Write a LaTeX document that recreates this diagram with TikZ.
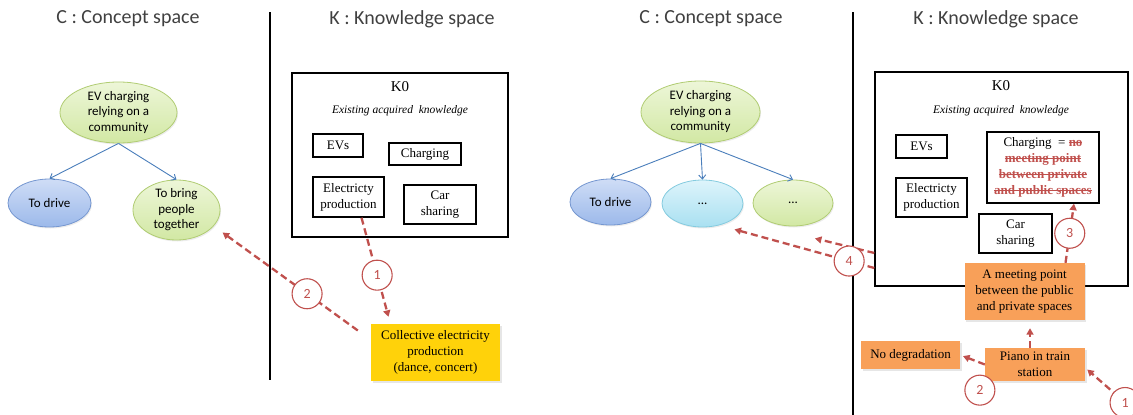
\documentclass[tikz,border=0pt]{standalone}
\usepackage{fontspec}
\setmainfont{Liberation Serif}
\newfontfamily\calib{Carlito}
\usetikzlibrary{arrows.meta,shapes.geometric,shadows}
\definecolor{redline}{HTML}{C0504D}
\definecolor{treeblue}{HTML}{4A7EBB}
\definecolor{titlegray}{HTML}{404040}
\definecolor{orangebox}{HTML}{F8A059}
\definecolor{yellowbox}{HTML}{FFD20A}
\definecolor{greentop}{HTML}{EDF6D8}
\definecolor{greenbot}{HTML}{D2E8A4}
\definecolor{greenline}{HTML}{B0CC72}
\definecolor{bluetop}{HTML}{CFDDF6}
\definecolor{bluebot}{HTML}{9CB9EA}
\definecolor{blueline}{HTML}{7496D0}
\definecolor{cyantop}{HTML}{DDF4FB}
\definecolor{cyanbot}{HTML}{A9E0F1}
\definecolor{cyanline}{HTML}{84CBDF}
\newcommand\strk[1]{\setbox0\hbox{#1}\makebox[0pt][l]{\rule[0.3em]{\wd0}{0.08em}}\box0}

\begin{document}
\begin{tikzpicture}[x=1pt,y=-1pt,
    title/.style={font=\calib\fontsize{20}{24}\selectfont,text=titlegray},
    cnode/.style={ellipse,inner sep=0pt,align=center,line width=0.8pt,
        font=\calib\fontsize{13}{15.5}\selectfont,
        drop shadow={opacity=0.15,shadow xshift=1pt,shadow yshift=-1.5pt}},
    cgreen/.style={cnode,draw=greenline,top color=greentop,bottom color=greenbot},
    cblue/.style={cnode,draw=blueline,top color=bluetop,bottom color=bluebot},
    ccyan/.style={cnode,draw=cyanline,top color=cyantop,bottom color=cyanbot},
    kframe/.style={rectangle,draw=black,line width=1.4pt},
    kbox/.style={rectangle,draw=black,line width=1.4pt,inner sep=2pt,align=center,
        font=\fontsize{13}{16}\selectfont},
    fbox/.style={rectangle,inner sep=2pt,align=center,font=\fontsize{13}{16}\selectfont,
        drop shadow={opacity=0.2,shadow xshift=1.5pt,shadow yshift=-1.5pt}},
    num/.style={circle,solid,draw=redline,fill=white,line width=1.1pt,minimum size=30pt,
        inner sep=0pt,text=redline,font=\calib\fontsize{14}{16}\selectfont},
    tree/.style={draw=treeblue,line width=0.9pt,-{Straight Barb[length=4pt,width=7pt]}},
    redarr/.style={draw=redline,line width=2.3pt,dash pattern=on 7pt off 4pt,
        -{Triangle[length=6.5pt,width=7pt]}},
]
    \useasboundingbox (0,0) rectangle (1133,415);
    \clip (0,0) rectangle (1133,415);

    % first picture
    \node[title] (ctitle) at (128,19) {C : Concept space};
    \node[title] (ktitle) at (412,19) {K : Knowledge space};
    \draw[line width=1.4pt] (270,12) -- (270,380);

    \node[cgreen,minimum width=117pt,minimum height=61pt] (ev) at (118.5,112.5) {EV charging\\relying on a\\community};
    \node[cblue,minimum width=83pt,minimum height=48pt] (drive) at (49.5,203) {To drive};
    \node[cgreen,minimum width=87pt,minimum height=60pt] (bring) at (176.5,210) {To bring\\people\\together};
    \draw[tree] (ev.south) -- (drive.north);
    \draw[tree] (ev.south) -- (bring.north);

    \node[kframe,minimum width=216pt,minimum height=164pt] (k0) at (400,155) {};
    \node[font=\fontsize{15}{18}\selectfont] (k0lbl) at (400,87) {K0};
    \node[font=\itshape\fontsize{11.5}{14}\selectfont] (exist) at (400,111) {Existing acquired\ \ knowledge};
    \node[kbox,minimum width=50pt,minimum height=23pt] (evs) at (338,145.5) {EVs};
    \node[kbox,minimum width=72pt,minimum height=22pt] (chg) at (425,154) {Charging};
    \node[kbox,minimum width=71pt,minimum height=40pt] (elec) at (348.5,197) {Electricty\\production};
    \node[kbox,minimum width=72pt,minimum height=39pt] (car) at (440,204.5) {Car\\sharing};
    \node[fbox,fill=yellowbox,minimum width=129pt,minimum height=57pt] (coll) at (435.5,352.5) {Collective electricity\\production\\(dance, concert)};

    \draw[redarr] ([xshift=13pt]elec.south) -- ([shift={(-47pt,7pt)}]coll.north) node[num,pos=0.58] {1};
    \draw[redarr] ([shift={(-13pt,22pt)}]coll.west) -- ([shift={(15pt,-1pt)}]bring.south east) node[num,pos=0.375] {2};

    % second picture
    \node[title] (ctitle2) at (711,19) {C : Concept space};
    \node[title] (ktitle2) at (996,19) {K : Knowledge space};
    \draw[line width=1.4pt] (853,12) -- (853,415);

    \node[cgreen,minimum width=119pt,minimum height=62pt] (ev2) at (700.5,112) {EV charging\\relying on a\\community};
    \node[cblue,minimum width=81pt,minimum height=46pt] (drive2) at (610.5,202) {To drive};
    \node[ccyan,minimum width=81pt,minimum height=47pt] (dotsc) at (702.5,203.5) {...};
    \node[cgreen,minimum width=80pt,minimum height=46pt] (dotsg) at (793,203) {...};
    \draw[tree] (ev2.south) -- (drive2.north);
    \draw[tree] (ev2.south) -- (dotsc.north);
    \draw[tree] (ev2.south) -- (dotsg.north);

    \node[kframe,minimum width=253pt,minimum height=214pt] (k0r) at (1001.5,179) {};
    \node[font=\fontsize{15}{18}\selectfont] (k0lbl2) at (1001,86) {K0};
    \node[font=\itshape\fontsize{11.5}{14}\selectfont] (exist2) at (1001,111) {Existing acquired\ \ knowledge};
    \node[kbox,minimum width=51pt,minimum height=23pt] (evs2) at (921.5,146.5) {EVs};
    \node[kbox,minimum width=71pt,minimum height=39pt] (elec2) at (931.5,197.5) {Electricty\\production};
    \node[kbox,minimum width=112pt,minimum height=71pt] (chg2) at (1043,167.5)
        {Charging\ \ = \textcolor{redline}{\bfseries\strk{no}}\\
         \textcolor{redline}{\bfseries\strk{meeting point}}\\
         \textcolor{redline}{\bfseries\strk{between private}}\\
         \textcolor{redline}{\bfseries\strk{and public spaces}}};
    \node[kbox,minimum width=73pt,minimum height=39pt] (car2) at (1015.5,233.5) {Car\\sharing};

    \node[fbox,fill=orangebox,minimum width=120pt,minimum height=57pt] (meet) at (1024.5,291.5) {A meeting point\\between the public\\and private spaces};
    \node[fbox,fill=orangebox,minimum width=99pt,minimum height=28pt] (nodeg) at (910.5,355) {No degradation};
    \node[fbox,fill=orangebox,minimum width=100pt,minimum height=33pt] (piano) at (1035,364.5) {Piano in train\\station};
    \coordinate (off1) at (1160,433);

    \draw[redarr] ([xshift=41pt]meet.north) -- ([xshift=31pt]chg2.south) node[num,pos=0.5] {3};
    \draw[redarr,shorten >=8pt] ([xshift=-5pt]piano.north) -- ([xshift=5.5pt]meet.south);
    \draw[redarr,shorten >=3pt] (piano.west) -- (nodeg.east) node[num,pos=0.2,below=12pt] {2};
    \draw[redarr] (off1) -- ([shift={(2pt,-5pt)}]piano.east) node[num,pos=0.48] {1};
    \draw[redarr] ([yshift=-74pt]k0r.west) -- ([shift={(22pt,-12pt)}]dotsg.south);
    \draw[redarr] ([yshift=-89pt]k0r.west) -- ([shift={(32pt,-2pt)}]dotsc.south) node[num,pos=0.18] {4};
\end{tikzpicture}
\end{document}
